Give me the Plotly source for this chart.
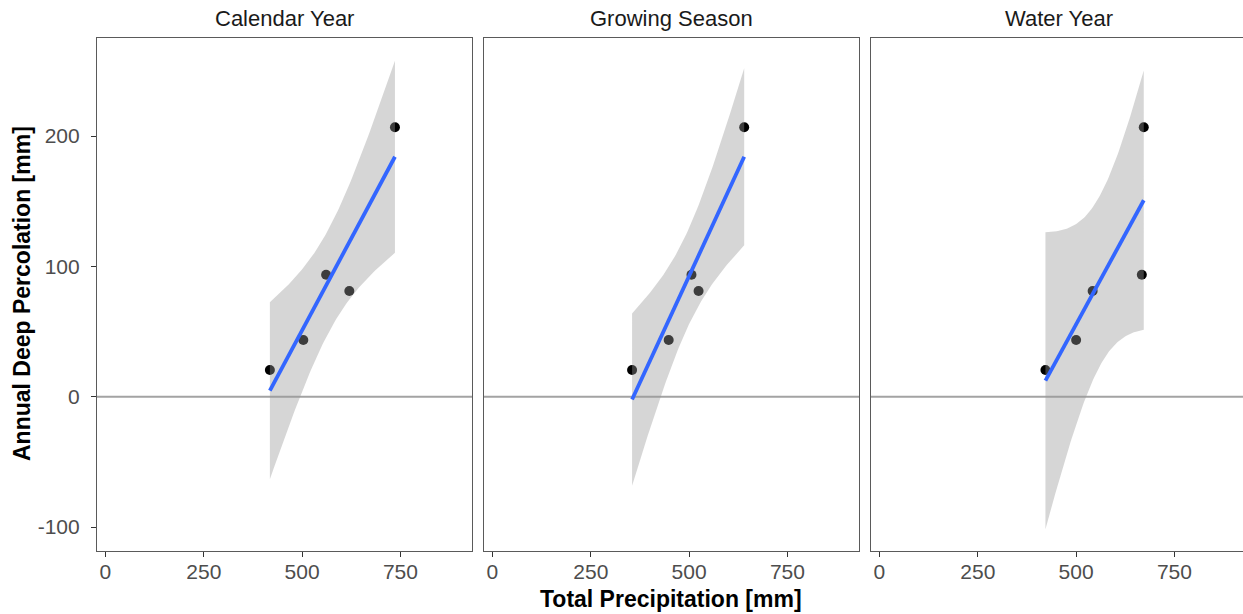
import numpy as np
import plotly.graph_objects as go

# Annual deep percolation against total precipitation, per aggregation period
periods = ["Calendar Year", "Growing Season", "Water Year"]
percolation = [20.5, 43.5, 93.6, 81.1, 206.8]
precip_calendar = [418, 503, 561, 620, 736]
precip_growing = [355, 448, 506, 524, 640]
precip_water = [422, 500, 667, 542, 672]
precip_by_period = [precip_calendar, precip_growing, precip_water]

x_ticks = [0, 250, 500, 750]
x_tick_text = ["0", "250", "500", "750"]
y_ticks = [-100, 0, 100, 200]
y_tick_text = ["-100", "0", "100", "200"]

T_975_DF3 = 3.182446  # Student t quantile (0.975, df = n - 2 = 3)

W, H = 1243, 614
panels_px = [(97, 472), (484, 859), (871, 1243)]
plot_top, plot_bottom = 38, 551
scale = 375 / 953.4  # px per mm
x_lo = -21.5
y_range = [-118.4, 275.3]

fig = go.Figure()


def lm_band(x, y, n_grid=80):
    x = np.asarray(x, float)
    y = np.asarray(y, float)
    n = len(x)
    xm, ym = x.mean(), y.mean()
    sxx = ((x - xm) ** 2).sum()
    b = ((x - xm) * (y - ym)).sum() / sxx
    a = ym - b * xm
    resid = y - (a + b * x)
    s = np.sqrt((resid ** 2).sum() / (n - 2))
    xg = np.linspace(x.min(), x.max(), n_grid)
    fit = a + b * xg
    se = s * np.sqrt(1 / n + (xg - xm) ** 2 / sxx)
    return xg, fit, fit - T_975_DF3 * se, fit + T_975_DF3 * se


for i, (name, px) in enumerate(zip(periods, precip_by_period)):
    sfx = "" if i == 0 else str(i + 1)
    xa, ya = "x" + sfx, "y" + sfx
    x0p, x1p = panels_px[i]

    # reference line at zero
    fig.add_trace(go.Scatter(
        x=[-1000, 2000], y=[0, 0], mode="lines", xaxis=xa, yaxis=ya,
        line=dict(color="#a3a3a3", width=2), hoverinfo="skip", showlegend=False))

    # observations
    fig.add_trace(go.Scatter(
        x=px, y=percolation, mode="markers", xaxis=xa, yaxis=ya,
        marker=dict(color="black", size=10, line=dict(width=0)), showlegend=False))

    # linear fit with 95% confidence ribbon
    xg, fit, lo, hi = lm_band(px, percolation)
    fig.add_trace(go.Scatter(
        x=np.concatenate([xg, xg[::-1]]), y=np.concatenate([hi, lo[::-1]]),
        mode="lines", fill="toself", fillcolor="rgba(153,153,153,0.4)",
        line=dict(width=0), xaxis=xa, yaxis=ya, hoverinfo="skip", showlegend=False))
    fig.add_trace(go.Scatter(
        x=xg, y=fit, mode="lines", xaxis=xa, yaxis=ya,
        line=dict(color="#3366FF", width=3.8), showlegend=False))

    x_hi = x_lo + (x1p - x0p) / scale
    axis_common = dict(
        showgrid=False, zeroline=False, showline=True, linecolor="#5a5a5a",
        linewidth=1.2, ticks="outside", ticklen=5, tickwidth=1.2,
        tickcolor="#333333", tickfont=dict(family="Liberation Sans", size=21, color="#4d4d4d"))
    fig.layout["xaxis" + sfx] = dict(
        axis_common, domain=[x0p / W, x1p / W], range=[x_lo, x_hi],
        tickvals=x_ticks, ticktext=x_tick_text, anchor=ya, mirror=True,
        ticklabelstandoff=-3)
    fig.layout["yaxis" + sfx] = dict(
        axis_common, domain=[1 - plot_bottom / H, 1 - plot_top / H], range=y_range,
        tickvals=y_ticks, ticktext=y_tick_text, anchor=xa, mirror=(i < 2),
        showticklabels=(i == 0), ticks="outside" if i == 0 else "",
        ticklabelstandoff=7)

    fig.add_annotation(
        text=name, xref="paper", yref="paper", x=((x0p + min(x1p, 1246)) / 2 + (1.5 if i == 2 else 0)) / W,
        y=1 - 18 / H, showarrow=False, xanchor="center", yanchor="middle",
        font=dict(family="Liberation Sans", size=22, color="#1a1a1a"))

fig.add_annotation(
    text="<b>Total Precipitation [mm]</b>", xref="paper", yref="paper",
    x=671 / W, y=1 - 599 / H, showarrow=False, xanchor="center", yanchor="middle",
    font=dict(family="Liberation Sans", size=23, color="black"))
fig.add_annotation(
    text="<b>Annual Deep Percolation [mm]</b>", xref="paper", yref="paper",
    x=22 / W, y=1 - 294 / H, showarrow=False, textangle=-90,
    xanchor="center", yanchor="middle",
    font=dict(family="Liberation Sans", size=23, color="black"))

fig.update_layout(
    width=W, height=H, margin=dict(l=0, r=0, t=0, b=0),
    paper_bgcolor="white", plot_bgcolor="white", showlegend=False)

fig.write_html("out.html")
